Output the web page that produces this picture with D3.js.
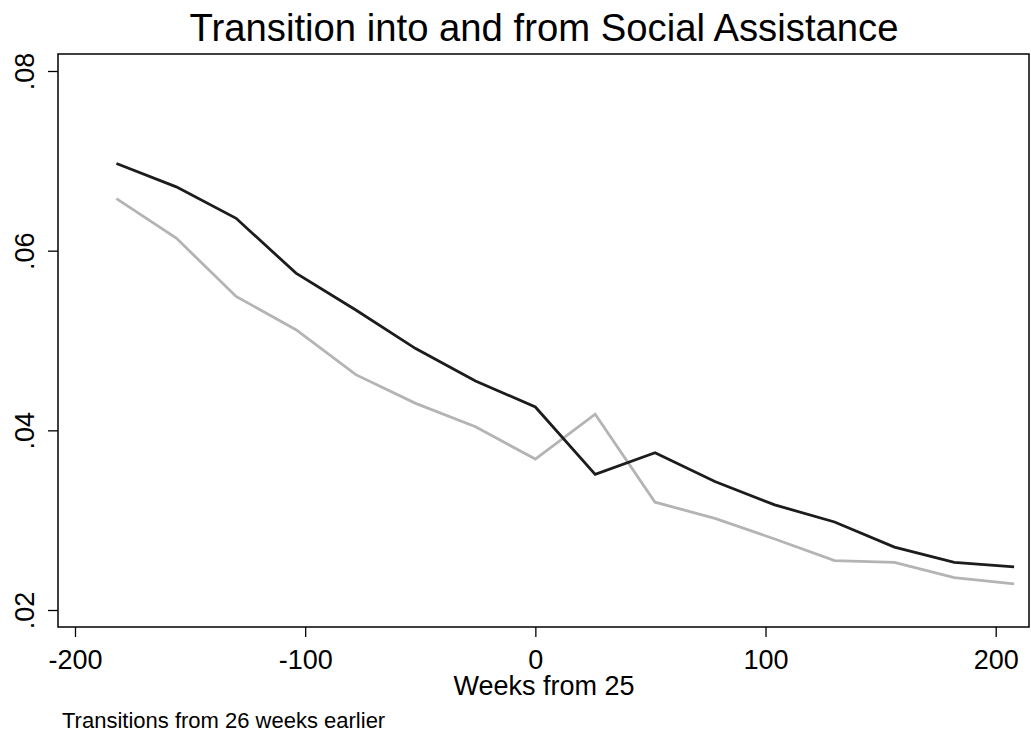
<!DOCTYPE html>
<html>
<head>
<meta charset="utf-8">
<script src="https://cdn.jsdelivr.net/npm/d3@7"></script>
<style>
  body { margin: 0; background: #fff; }
  svg { display: block; font-family: "Liberation Sans", Arial, sans-serif; }
</style>
</head>
<body>
<div id="chart"></div>
<script>
// weeks from 25 (x positions of the points)
const weeks = [-182, -156, -130, -104, -78, -52, -26, 0, 26, 52, 78, 104, 130, 156, 182, 208];
// dark line
const seriesDark = [0.0697, 0.0671, 0.0636, 0.0575, 0.0534, 0.0491, 0.0455, 0.0426,
  0.0351, 0.0375, 0.0343, 0.0317, 0.0298, 0.0270, 0.0253, 0.0248];
// light grey line
const seriesLight = [0.0658, 0.0614, 0.0549, 0.0512, 0.0462, 0.0430, 0.0404, 0.0368,
  0.0418, 0.0320, 0.0302, 0.0279, 0.0255, 0.0253, 0.0236, 0.0229];

const xTicks = [-200, -100, 0, 100, 200];
const yTicks = [0.02, 0.04, 0.06, 0.08];

const width = 1031,
  height = 738;

const svg = d3.select("#chart")
  .append("svg")
  .attr("width", width)
  .attr("height", height);

const x = d3.scaleLinear().domain([-200, 200]).range([75, 995.7]);
const y = d3.scaleLinear().domain([0.02, 0.08]).range([610, 71]);

// plot frame
const frame = { left: 58, right: 1029, top: 54, bottom: 627 };
svg.append("rect")
  .attr("x", frame.left)
  .attr("y", frame.top)
  .attr("width", frame.right - frame.left)
  .attr("height", frame.bottom - frame.top)
  .style("fill", "none")
  .style("stroke", "#000")
  .style("stroke-width", 1.5);

// title
svg.append("text")
  .attr("x", 544)
  .attr("y", 41)
  .attr("text-anchor", "middle")
  .attr("textLength", 709)
  .attr("lengthAdjust", "spacingAndGlyphs")
  .style("font-size", "38px")
  .text("Transition into and from Social Assistance");

// y axis
const yAxis = svg.append("g")
  .attr("transform", `translate(${frame.left},0)`)
  .call(d3.axisLeft(y).tickValues(yTicks).tickSize(10).tickFormat(d => d3.format(".2f")(d).replace(/^0/, "")));
yAxis.select(".domain").remove();
yAxis.selectAll("line").style("stroke", "#000").style("stroke-width", 1.3);
yAxis.selectAll("text")
  .attr("transform", "translate(-24,0) rotate(-90)")
  .attr("x", 0)
  .attr("y", 0)
  .attr("dy", 0)
  .attr("text-anchor", "middle")
  .style("font-size", "27px")
  .style("fill", "#000");

// x axis
const xAxis = svg.append("g")
  .attr("transform", `translate(0,${frame.bottom})`)
  .call(d3.axisBottom(x).tickValues(xTicks).tickSize(10).tickFormat(d3.format("d")));
xAxis.select(".domain").remove();
xAxis.selectAll("line").style("stroke", "#000").style("stroke-width", 1.3);
xAxis.selectAll("text")
  .attr("y", 42)
  .attr("dy", 0)
  .style("font-size", "27px")
  .style("fill", "#000")
  .text(d => d < 0 ? "-" + Math.abs(d) : d);

svg.append("text")
  .attr("x", 544)
  .attr("y", 695)
  .attr("text-anchor", "middle")
  .style("font-size", "27px")
  .text("Weeks from 25");

svg.append("text")
  .attr("x", 62)
  .attr("y", 728)
  .style("font-size", "22px")
  .text("Transitions from 26 weeks earlier");

// lines
const line = vals => d3.line()
  .x((d, i) => x(weeks[i]))
  .y(d => y(d))(vals);

svg.append("path")
  .attr("d", line(seriesLight))
  .style("fill", "none")
  .style("stroke", "#b4b4b4")
  .style("stroke-width", 2.8);

svg.append("path")
  .attr("d", line(seriesDark))
  .style("fill", "none")
  .style("stroke", "#1c1c1c")
  .style("stroke-width", 2.8);
</script>
</body>
</html>
